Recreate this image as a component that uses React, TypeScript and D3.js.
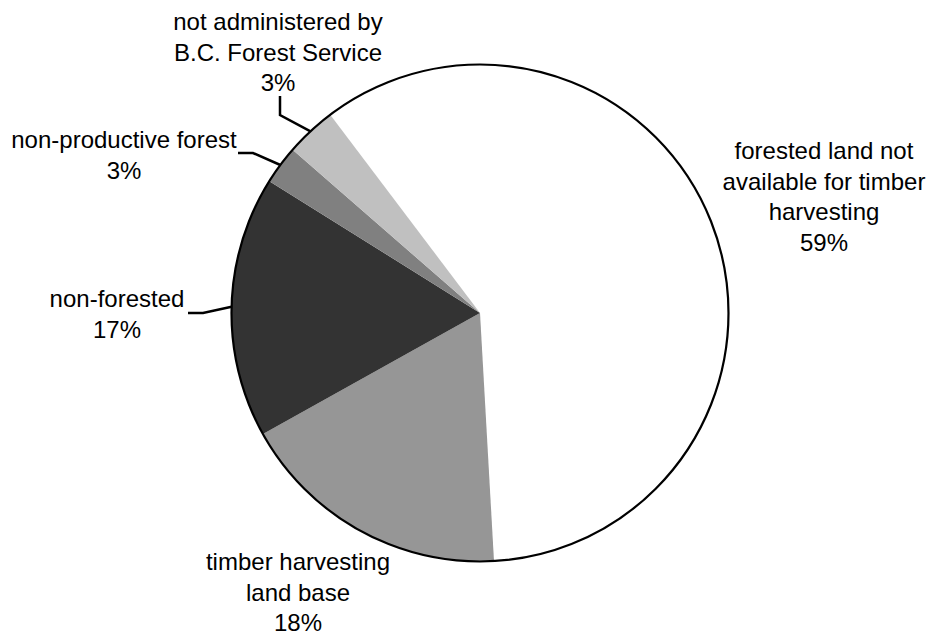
import React from "react";
import * as d3 from "d3";

// Land classification shares (percent of total area)
const categories = [
  "forested land not available for timber harvesting",
  "timber harvesting land base",
  "non-forested",
  "non-productive forest",
  "not administered by B.C. Forest Service",
];
const values = [59.4, 17.8, 17.0, 2.5, 3.3];
const fills = ["#ffffff", "#969696", "#333333", "#808080", "#c0c0c0"];

// Multi-line label text for each category
const labelLines = [
  ["forested land not", "available for timber", "harvesting"],
  ["timber harvesting", "land base"],
  ["non-forested"],
  ["non-productive forest"],
  ["not administered by", "B.C. Forest Service"],
];

const W = 926;
const H = 637;
const CX = 480;
const CY = 313;
const R = 248.5;
const START_DEG = -37.07;

// Label anchors (centre x, first baseline y) and leader elbows (null = no leader)
const labelLayout = [
  { x: 824, y: 159, leader: null },
  { x: 298, y: 570, leader: null },
  { x: 117, y: 307, leader: [[188, 313], [203, 313]] },
  { x: 124, y: 148, leader: [[238, 153], [253, 153]] },
  { x: 278, y: 30, leader: [[280, 96], [280, 115]] },
];

const FONT = "'Liberation Sans', Arial, Helvetica, sans-serif";
const FS = 24;
const LH = 30.5;

export default function App() {
  const start = (START_DEG * Math.PI) / 180;
  const pie = d3
    .pie<number>()
    .sort(null)
    .value((d) => d)
    .startAngle(start)
    .endAngle(start + 2 * Math.PI);
  const arcs = pie(values);
  const arcGen = d3.arc<d3.PieArcDatum<number>>().innerRadius(0).outerRadius(R);

  return (
    <svg
      width={W}
      height={H}
      style={{ position: "absolute", left: 0, top: 0, background: "#fff" }}
    >
      <rect width={W} height={H} fill="#fff" />
      <g transform={`translate(${CX},${CY})`}>
        {arcs.map((a, i) => (
          <path key={categories[i]} d={arcGen(a) ?? ""} fill={fills[i]} />
        ))}
        <circle r={R} fill="none" stroke="#000" strokeWidth={2.2} />
      </g>
      {arcs.map((a, i) => {
        const lay = labelLayout[i];
        const mid = (a.startAngle + a.endAngle) / 2;
        const ex = CX + R * Math.sin(mid);
        const ey = CY - R * Math.cos(mid);
        const lines = [...labelLines[i], `${Math.round(values[i])}%`];
        return (
          <g key={"lab" + i}>
            {lay.leader && (
              <polyline
                points={[...lay.leader, [ex, ey]].map((p) => p.join(",")).join(" ")}
                fill="none"
                stroke="#000"
                strokeWidth={2.5}
              />
            )}
            <text
              x={lay.x}
              y={lay.y}
              textAnchor="middle"
              fontFamily={FONT}
              fontSize={FS}
              fill="#000"
            >
              {lines.map((t, k) => (
                <tspan key={k} x={lay.x} y={lay.y + k * LH}>
                  {t}
                </tspan>
              ))}
            </text>
          </g>
        );
      })}
    </svg>
  );
}
